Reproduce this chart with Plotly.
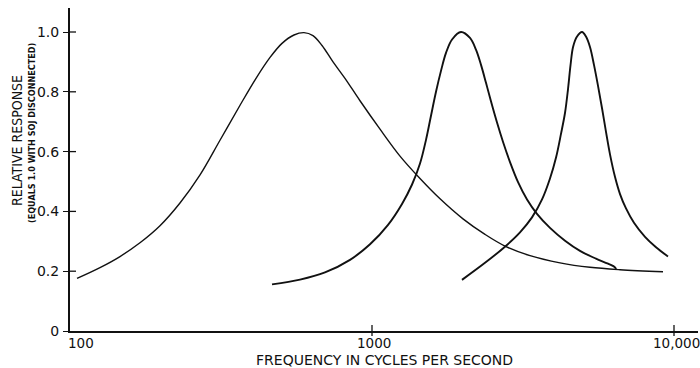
import math
import plotly.graph_objects as go

# Resonance response curves (frequency in Hz, relative response)
freq_low = [105.5, 125.7, 146.4, 170.5, 198.6, 231.3, 269.5, 313.8, 365.6, 413.0,
            459.6, 503.5, 551.6, 595.5, 637.6, 683.1, 742.9, 813.9, 912.6, 1063,
            1238, 1442, 1680, 2001, 2367, 2756, 3337, 4194, 5270, 6626, 9197]
resp_low = [0.176, 0.212, 0.249, 0.295, 0.352, 0.428, 0.522, 0.638, 0.755, 0.845,
            0.915, 0.962, 0.990, 0.998, 0.988, 0.955, 0.900, 0.845, 0.770, 0.675,
            0.585, 0.510, 0.442, 0.375, 0.323, 0.284, 0.252, 0.228, 0.213, 0.205,
            0.198]

freq_mid = [466.6, 577.5, 698.8, 845.6, 985, 1130, 1257, 1357, 1442, 1510, 1568,
            1629, 1692, 1758, 1841, 1971, 2111, 2211, 2296, 2385, 2477, 2594, 2716,
            2864, 3045, 3261, 3518, 3885, 4357, 4884, 5516, 6048, 6379, 6427]
resp_mid = [0.156, 0.172, 0.196, 0.238, 0.290, 0.355, 0.425, 0.490, 0.560, 0.640,
            0.720, 0.800, 0.870, 0.930, 0.975, 1.000, 0.980, 0.940, 0.890, 0.830,
            0.768, 0.697, 0.632, 0.565, 0.498, 0.440, 0.392, 0.345, 0.302, 0.268,
            0.242, 0.225, 0.213, 0.206]

freq_high = [1986, 2367, 2756, 3091, 3387, 3656, 3885, 4068, 4226, 4357, 4458, 4544,
             4632, 4775, 4960, 5111, 5270, 5433, 5603, 5777, 5956, 6141, 6379, 6626,
             6936, 7370, 8017, 8719, 9552]
resp_high = [0.171, 0.228, 0.282, 0.330, 0.380, 0.440, 0.510, 0.580, 0.660, 0.730,
             0.810, 0.890, 0.950, 0.985, 1.000, 0.985, 0.950, 0.890, 0.820, 0.745,
             0.665, 0.590, 0.515, 0.458, 0.410, 0.362, 0.315, 0.280, 0.249]

x_tickvals = [100, 1000, 10000]
x_ticktext = ["100", "1000", "10,000"]
y_tickvals = [0, 0.2, 0.4, 0.6, 0.8, 1.0]
y_ticktext = ["0", "0.2", "0.4", "0.6", "0.8", "1.0"]

FONT = "DejaVu Sans"
NARROW = "DejaVu Sans Condensed, Liberation Sans Narrow, DejaVu Sans"
INK = "#111111"

fig = go.Figure()
for fx, ry, w in [(freq_low, resp_low, 1.4), (freq_mid, resp_mid, 1.9),
                  (freq_high, resp_high, 1.9)]:
    fig.add_trace(go.Scatter(x=fx, y=ry, mode="lines",
                             line=dict(color=INK, width=w, shape="spline", smoothing=1.0),
                             hoverinfo="skip", showlegend=False))

W, H = 700, 368
ml, mr, mt, mb = 70, 2, 8, 37
pw, ph = W - ml - mr, H - mt - mb

# Cross-shaped tick marks: inner halves on the y axis (outer halves come from
# the axis ticks), full crosses on the x axis
shapes = []
for v in y_tickvals[1:]:
    shapes.append(dict(type="line", xref="paper", yref="y", x0=0, x1=6 / pw,
                       y0=v, y1=v, line=dict(color=INK, width=1.3), layer="above"))
for v in x_tickvals[1:]:
    shapes.append(dict(type="line", xref="x", yref="paper", x0=v, x1=v,
                       y0=-5 / ph, y1=6 / ph, line=dict(color=INK, width=1.3),
                       layer="above"))

# Frequency labels under the axis; the first one starts at the corner
annotations = []
for i, (v, t) in enumerate(zip(x_tickvals, x_ticktext)):
    annotations.append(dict(text=t, xref="x", yref="paper", x=math.log10(v), y=0,
                            xanchor="left" if i == 0 else "center", yanchor="top",
                            xshift=-4 if i == 0 else 2, yshift=-2, showarrow=False,
                            font=dict(size=13.5)))

annotations += [
    dict(text="FREQUENCY IN CYCLES PER SECOND", xref="paper", yref="paper",
         x=0.5, y=-19 / ph, xanchor="center", yanchor="top", showarrow=False,
         font=dict(size=14)),
    dict(text="RELATIVE RESPONSE", xref="paper", yref="paper",
         x=-53 / pw, y=0.588, xanchor="center", yanchor="middle", textangle=-90,
         showarrow=False, font=dict(size=14, family=NARROW)),
    dict(text="<b>(EQUALS 1.0 WITH SOJ DISCONNECTED)</b>", xref="paper", yref="paper",
         x=-38 / pw, y=0.613, xanchor="center", yanchor="middle", textangle=-90,
         showarrow=False, font=dict(size=9, family=NARROW)),
]

fig.update_layout(
    width=W, height=H,
    margin=dict(l=ml, r=mr, t=mt, b=mb),
    paper_bgcolor="white", plot_bgcolor="white",
    font=dict(family=FONT, color=INK, size=13),
    shapes=shapes,
    annotations=annotations,
    xaxis=dict(type="log", range=[2, 2 + pw / 302], showgrid=False, zeroline=False,
               showline=True, linecolor=INK, linewidth=2,
               tickmode="array", tickvals=x_tickvals, ticks="",
               showticklabels=False),
    yaxis=dict(range=[0, ph / 299], showgrid=False, zeroline=False,
               showline=True, linecolor=INK, linewidth=2,
               tickmode="array", tickvals=y_tickvals, ticktext=y_ticktext,
               ticks="outside", ticklen=5, tickwidth=1.3, tickcolor=INK,
               ticklabelstandoff=1, tickfont=dict(size=14)),
)

fig.write_html("out.html")
